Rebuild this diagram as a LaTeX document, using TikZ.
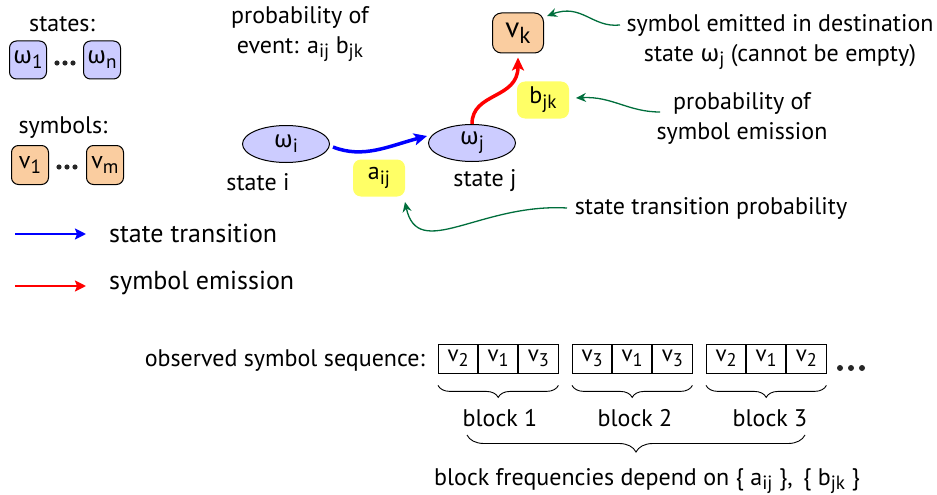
\documentclass[tikz,border=0pt]{standalone}
\usepackage{fontspec}
\setmainfont{PT Sans}
\newfontfamily\grk{Fira Sans}
\usetikzlibrary{shapes.geometric,decorations.pathreplacing,arrows.meta}
\definecolor{lav}{RGB}{204,204,255}
\definecolor{org}{RGB}{250,205,160}
\definecolor{ylw}{RGB}{255,255,102}
\definecolor{grn}{RGB}{0,110,60}
\newcommand\lo[1]{\raisebox{-0.2em}{\scalebox{0.8}{#1}}}
\newcommand\om{{\grk ω}}
\tikzset{
  stbox/.style={draw, line width=1pt, rounded corners=7pt, fill=lav, minimum width=37, minimum height=38, inner sep=0pt},
  sybox/.style={draw, line width=1pt, rounded corners=7pt, fill=org, minimum width=37, minimum height=39, inner sep=0pt},
  ell/.style={ellipse, draw, line width=1pt, fill=lav, minimum width=87, minimum height=37, inner sep=0pt},
  ybox/.style={fill=ylw, rounded corners=8pt, minimum width=52, minimum height=37, inner sep=0pt},
  cell/.style={draw, line width=0.8pt, minimum width=118/3, minimum height=29, inner sep=0pt, font=\fontsize{23}{26}\selectfont},
  note/.style={draw=grn, line width=1.3pt, -{Stealth[length=10pt,width=9pt]}},
  trans/.style={draw=blue, line width=3.5pt, -{Stealth[length=13pt,width=12pt,inset=3pt]}},
  emis/.style={draw=red, line width=3.5pt, -{Stealth[length=13pt,width=12pt,inset=3pt]}},
  legtr/.style={draw=blue, line width=2.5pt, -{Stealth[length=11pt,width=11pt,inset=2pt]}},
  legem/.style={draw=red, line width=2.5pt, -{Stealth[length=11pt,width=11pt,inset=2pt]}},
  lbl/.style={inner sep=0pt, align=center},
  brc/.style={decorate, decoration={brace, mirror, amplitude=#1}, line width=0.9pt},
  dotfill/.style={fill=black!85}
}
\begin{document}
\begin{tikzpicture}[x=1pt, y=-1pt, font=\fontsize{24}{30}\selectfont]
\useasboundingbox (0,0) rectangle (937,495);

% legend of states and symbols
\node[lbl] (states) at (62,24) {states:};
\node[stbox] (w1) at (28,60) {\om\lo{1}};
\fill[dotfill] (57,63) circle (2.6) (65,63) circle (2.6) (73,63) circle (2.6);
\node[stbox] (wn) at (102,60) {\om\lo{n}};
\node[lbl] (symbols) at (63,128) {symbols:};
\node[sybox] (v1) at (30,165) {v\lo{1}};
\fill[dotfill] (59,167) circle (2.6) (67,167) circle (2.6) (75,167) circle (2.6);
\node[sybox] (vm) at (105,165) {v\lo{m}};

% arrow legend
\coordinate (lbs) at (15,234);
\coordinate (lbe) at (86,234);
\coordinate (lrs) at (15,286);
\coordinate (lre) at (86,286);
\draw[legtr] (lbs) -- (lbe);
\draw[legem] (lrs) -- (lre);
\node[lbl, anchor=west, font=\fontsize{26}{30}\selectfont] (lt) at (109,233) {state transition};
\node[lbl, anchor=west, font=\fontsize{26}{30}\selectfont] (le) at (109,283) {symbol emission};

% event
\node[lbl] (prob) at (300,34) {probability of\\event: a\lo{ij} b\lo{jk}};

% states
\node[ell] (wi) at (286,144) {\om\lo{i}};
\node[ell] (wj) at (472,143) {\om\lo{j}};
\node[lbl] (si) at (258,182) {state i};
\node[lbl] (sj) at (485,181) {state j};
\node[ybox] (aij) at (379,178) {a\lo{ij}};
\node[ybox] (bjk) at (543,100) {b\lo{jk}};
\node[sybox, minimum width=51, minimum height=40, rounded corners=9pt, font=\fontsize{29}{30}\selectfont] (vk) at (518,33) {v\lo{k}};

\draw[trans] ([xshift=3pt,yshift=-3pt]wi.east) .. controls +(30,12) and +(-38,10) .. ([xshift=-1pt,yshift=7pt]wj.west);
\draw[emis] (wj.north) .. controls +(0,-32) and +(0,42) .. ([yshift=-4pt]vk.south);

% annotations
\node[lbl] (emitted) at (780,42) {symbol emitted in destination\\state \om\lo{j} (cannot be empty)};
\node[lbl] (probsym) at (742,118) {probability of\\symbol emission};
\node[lbl] (stp) at (711,208) {state transition probability};
\coordinate (t1) at (620,25);
\coordinate (h1) at (547,16);
\coordinate (t2) at (660,112);
\coordinate (h2) at (576,98);
\coordinate (t3) at (567,208);
\coordinate (h3) at (405,202);
\draw[note] (t1) .. controls (592,28) and (582,3) .. (h1);
\draw[note] (t2) .. controls (628,112) and (612,96) .. (h2);
\draw[note] (t3) .. controls (480,203) and (418,262) .. (h3);

% observed sequence
\node[lbl, anchor=east] (obs) at (425,361) {observed symbol sequence:};
\node[cell, anchor=west] (c11) at (438,358.5) {v\lo{2}};
\node[cell, anchor=west] (c12) at (c11.east) {v\lo{1}};
\node[cell, anchor=west] (c13) at (c12.east) {v\lo{3}};
\node[cell, anchor=west] (c21) at (572,358.5) {v\lo{3}};
\node[cell, anchor=west] (c22) at (c21.east) {v\lo{1}};
\node[cell, anchor=west] (c23) at (c22.east) {v\lo{3}};
\node[cell, anchor=west] (c31) at (706,358.5) {v\lo{2}};
\node[cell, anchor=west] (c32) at (c31.east) {v\lo{1}};
\node[cell, anchor=west] (c33) at (c32.east) {v\lo{2}};
\fill[dotfill] (840,368) circle (3) (851,368) circle (3) (862,368) circle (3);

\draw[brc=12pt] ([yshift=-12pt]c11.south west) -- ([yshift=-12pt]c13.south east);
\draw[brc=12pt] ([yshift=-12pt]c21.south west) -- ([yshift=-12pt]c23.south east);
\draw[brc=12pt] ([yshift=-12pt]c31.south west) -- ([yshift=-12pt]c33.south east);
\node[lbl] (b1) at (500,418) {block 1};
\node[lbl] (b2) at (635,418) {block 2};
\node[lbl] (b3) at (770,418) {block 3};
\coordinate (bl) at (467,435);
\coordinate (br) at (805,435);
\draw[brc=17pt] (bl) -- (br);
\node[lbl] (freq) at (647,481) {block frequencies depend on \{ a\lo{ij} \},\, \{ b\lo{jk} \}};
\end{tikzpicture}
\end{document}
